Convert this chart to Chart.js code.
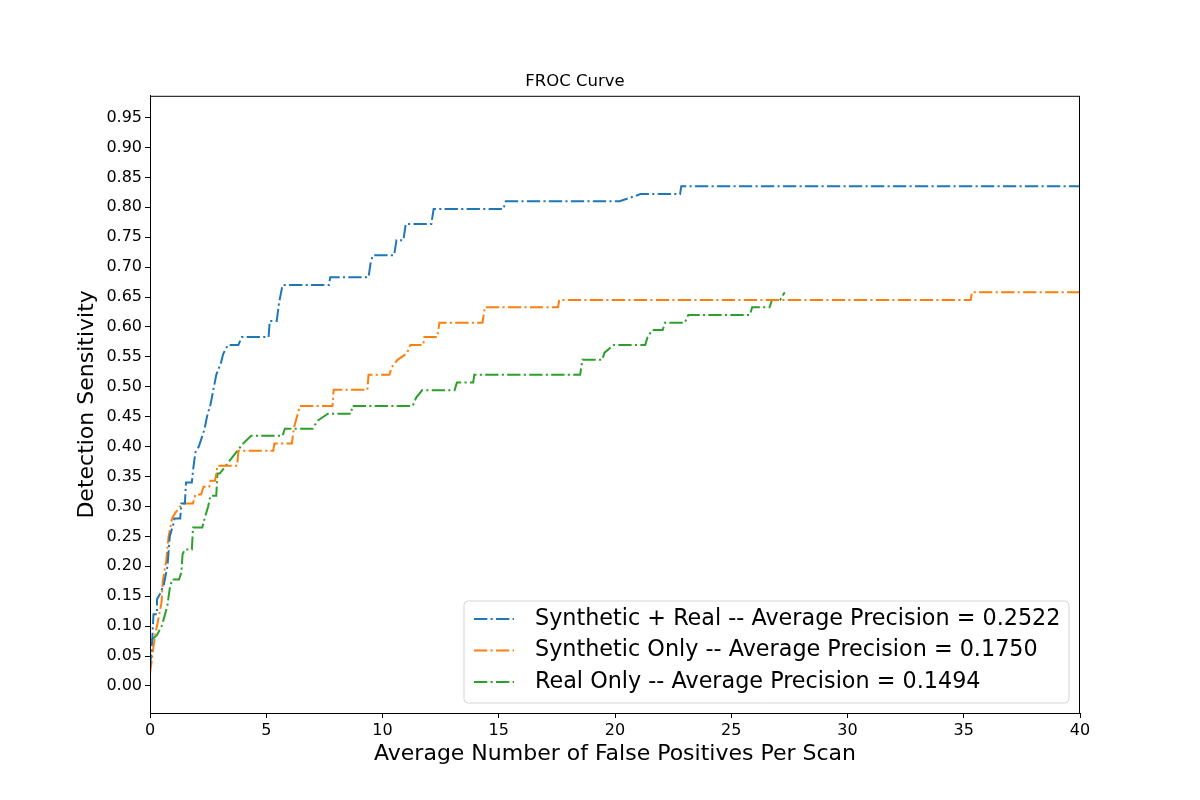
<!DOCTYPE html>
<html>
<head>
<meta charset="utf-8">
<title>FROC Curve</title>
<script src="https://cdn.jsdelivr.net/npm/chart.js@4.4.1/dist/chart.umd.min.js"></script>
<style>
  body { margin: 0; background: #fff; }
  #chart { display: block; }
</style>
</head>
<body>
<canvas id="chart" width="1200" height="800" style="width:1200px;height:800px"></canvas>
<script>
// Synthetic + Real
const synRealFp = [0, 0.1, 0.15, 0.3, 0.3, 0.45, 0.6, 0.75, 0.85, 1.0, 1.05, 1.3, 1.35, 1.5, 1.55, 1.8, 1.85, 1.95, 2.1, 2.35, 2.45, 2.6, 2.75, 2.85, 3.05, 3.15, 3.35, 3.8, 3.95, 5.1, 5.15, 5.45, 5.55, 5.7, 7.7, 7.75, 9.4, 9.5, 9.6, 10.5, 10.6, 10.9, 11.0, 12.1, 12.2, 15.2, 15.3, 20.2, 21.1, 22.8, 22.85, 40];
const synRealSens = [0.03, 0.08, 0.12, 0.12, 0.145, 0.155, 0.17, 0.2, 0.25, 0.27, 0.28, 0.28, 0.305, 0.305, 0.34, 0.34, 0.36, 0.39, 0.40, 0.43, 0.45, 0.47, 0.50, 0.52, 0.54, 0.555, 0.57, 0.57, 0.583, 0.583, 0.61, 0.61, 0.64, 0.67, 0.67, 0.683, 0.683, 0.71, 0.72, 0.72, 0.745, 0.745, 0.772, 0.772, 0.797, 0.797, 0.81, 0.81, 0.822, 0.822, 0.835, 0.835];

// Synthetic Only
const synOnlyFp = [0, 0.1, 0.2, 0.35, 0.5, 0.55, 0.7, 0.8, 0.95, 1.1, 1.4, 1.85, 1.95, 2.2, 2.3, 2.55, 2.6, 2.8, 2.9, 3.75, 3.8, 5.3, 5.35, 6.1, 6.2, 6.45, 7.85, 7.9, 9.35, 9.4, 10.3, 10.4, 10.65, 11.05, 11.2, 11.75, 11.8, 12.35, 12.45, 14.3, 14.4, 17.55, 17.6, 35.3, 35.35, 40];
const synOnlySens = [0.02, 0.05, 0.08, 0.11, 0.14, 0.175, 0.21, 0.25, 0.28, 0.29, 0.305, 0.305, 0.32, 0.32, 0.333, 0.333, 0.343, 0.343, 0.368, 0.368, 0.393, 0.393, 0.405, 0.405, 0.433, 0.468, 0.468, 0.495, 0.495, 0.52, 0.52, 0.533, 0.545, 0.556, 0.57, 0.57, 0.583, 0.583, 0.607, 0.607, 0.633, 0.633, 0.645, 0.645, 0.658, 0.658];

// Real Only
const realOnlyFp = [0, 0.02, 0.1, 0.3, 0.5, 0.65, 0.75, 0.85, 0.95, 1.25, 1.35, 1.4, 1.5, 1.8, 1.85, 2.25, 2.35, 2.5, 2.6, 2.85, 2.9, 3.0, 4.0, 4.35, 5.7, 5.8, 7.0, 7.2, 7.65, 8.65, 8.7, 11.3, 11.45, 11.7, 13.1, 13.2, 13.9, 13.95, 18.5, 18.6, 19.45, 19.55, 19.95, 21.3, 21.4, 21.6, 22.05, 22.15, 23.0, 23.15, 25.8, 25.9, 26.65, 26.75, 27.1, 27.3];
const realOnlySens = [0.04, 0.07, 0.078, 0.085, 0.10, 0.12, 0.135, 0.163, 0.178, 0.178, 0.19, 0.22, 0.228, 0.228, 0.265, 0.265, 0.28, 0.30, 0.318, 0.318, 0.355, 0.355, 0.405, 0.418, 0.418, 0.43, 0.43, 0.443, 0.455, 0.455, 0.468, 0.468, 0.482, 0.494, 0.494, 0.507, 0.507, 0.52, 0.52, 0.545, 0.545, 0.557, 0.57, 0.57, 0.583, 0.595, 0.595, 0.607, 0.607, 0.62, 0.62, 0.633, 0.633, 0.645, 0.645, 0.658];

const seriesLabels = [
    'Synthetic + Real -- Average Precision = 0.2522',
    'Synthetic Only -- Average Precision = 0.1750',
    'Real Only -- Average Precision = 0.1494'
];
const xTicks = [0, 5, 10, 15, 20, 25, 30, 35, 40];
const yTicks = [0.00, 0.05, 0.10, 0.15, 0.20, 0.25, 0.30, 0.35, 0.40, 0.45, 0.50, 0.55, 0.60, 0.65, 0.70, 0.75, 0.80, 0.85, 0.90, 0.95];

const colors = ['#1f77b4', '#ff7f0e', '#2ca02c'];
const dashDot = [13.3, 3.3, 2.1, 3.3];
const FONT = "'DejaVu Sans', sans-serif";

function toPoints(xs, ys) {
    return xs.map((x, i) => ({ x: x, y: ys[i] }));
}

function makeDataset(label, xs, ys, color) {
    return {
        label: label,
        data: toPoints(xs, ys),
        borderColor: color,
        backgroundColor: color,
        borderWidth: 2,
        borderDash: dashDot,
        pointRadius: 0,
        tension: 0,
        fill: false
    };
}

// cadre noir autour de la zone du graphique (comme matplotlib)
const framePlugin = {
    id: 'frame',
    afterDraw(chart) {
        const { ctx, chartArea: a } = chart;
        ctx.save();
        ctx.strokeStyle = '#000';
        ctx.lineWidth = 1;
        ctx.strokeRect(a.left + 0.5, a.top + 0.5, a.right - a.left - 1, a.bottom - a.top);
        ctx.restore();
    }
};

// légende dans le coin inférieur droit
const legendPlugin = {
    id: 'insideLegend',
    afterDraw(chart) {
        const ctx = chart.ctx;
        const bx = 464, by = 601, bw = 605, bh = 102, r = 4;
        ctx.save();
        ctx.beginPath();
        ctx.moveTo(bx + r, by);
        ctx.lineTo(bx + bw - r, by);
        ctx.arcTo(bx + bw, by, bx + bw, by + r, r);
        ctx.lineTo(bx + bw, by + bh - r);
        ctx.arcTo(bx + bw, by + bh, bx + bw - r, by + bh, r);
        ctx.lineTo(bx + r, by + bh);
        ctx.arcTo(bx, by + bh, bx, by + bh - r, r);
        ctx.lineTo(bx, by + r);
        ctx.arcTo(bx, by, bx + r, by, r);
        ctx.closePath();
        ctx.fillStyle = 'rgba(255,255,255,0.8)';
        ctx.fill();
        ctx.strokeStyle = '#d5d5d5';
        ctx.lineWidth = 1;
        ctx.stroke();

        ctx.font = '22.3px ' + FONT;
        ctx.textBaseline = 'middle';
        ctx.textAlign = 'left';
        chart.data.datasets.forEach((ds, i) => {
            const y = 619 + i * 31.5;
            ctx.beginPath();
            ctx.setLineDash(dashDot);
            ctx.strokeStyle = ds.borderColor;
            ctx.lineWidth = 2;
            ctx.moveTo(474, y);
            ctx.lineTo(514, y);
            ctx.stroke();
            ctx.setLineDash([]);
            ctx.fillStyle = '#000';
            ctx.fillText(ds.label, 535, y);
        });
        ctx.restore();
    }
};

const ctx = document.getElementById('chart');
const frocChart = new Chart(ctx, {
    type: 'line',
    data: {
        datasets: [
            makeDataset(seriesLabels[0], synRealFp, synRealSens, colors[0]),
            makeDataset(seriesLabels[1], synOnlyFp, synOnlySens, colors[1]),
            makeDataset(seriesLabels[2], realOnlyFp, realOnlySens, colors[2])
        ]
    },
    options: {
        responsive: false,
        animation: false,
        devicePixelRatio: 1,
        layout: { padding: { left: 70, right: 120, top: 62, bottom: 29 } },
        plugins: {
            legend: { display: false },
            tooltip: { enabled: false },
            title: {
                display: true,
                text: 'FROC Curve',
                color: '#000',
                font: { family: FONT, size: 16.5, weight: 'normal' },
                padding: { top: 10, bottom: 4 }
            }
        },
        scales: {
            x: {
                type: 'linear',
                min: 0,
                max: 40,
                afterBuildTicks: s => { s.ticks = xTicks.map(v => ({ value: v })); },
                afterFit: s => { s.height = 58; },
                ticks: {
                    color: '#000',
                    padding: 3,
                    maxRotation: 0,
                    font: { family: FONT, size: 16 },
                    callback: v => String(v)
                },
                grid: { drawOnChartArea: false, tickLength: 5, color: '#000' },
                border: { color: '#000' },
                title: {
                    display: true,
                    text: 'Average Number of False Positives Per Scan',
                    color: '#000',
                    font: { family: FONT, size: 22 }
                }
            },
            y: {
                type: 'linear',
                min: -0.0452,
                max: 0.9863,
                afterBuildTicks: s => { s.ticks = yTicks.map(v => ({ value: v })); },
                afterFit: s => { s.width = 80; },
                ticks: {
                    color: '#000',
                    padding: 3,
                    font: { family: FONT, size: 16 },
                    callback: v => v.toFixed(2)
                },
                grid: { drawOnChartArea: false, tickLength: 5, color: '#000' },
                border: { color: '#000' },
                title: {
                    display: true,
                    text: 'Detection Sensitivity',
                    color: '#000',
                    font: { family: FONT, size: 22 }
                }
            }
        }
    },
    plugins: [framePlugin, legendPlugin]
});
</script>
</body>
</html>
